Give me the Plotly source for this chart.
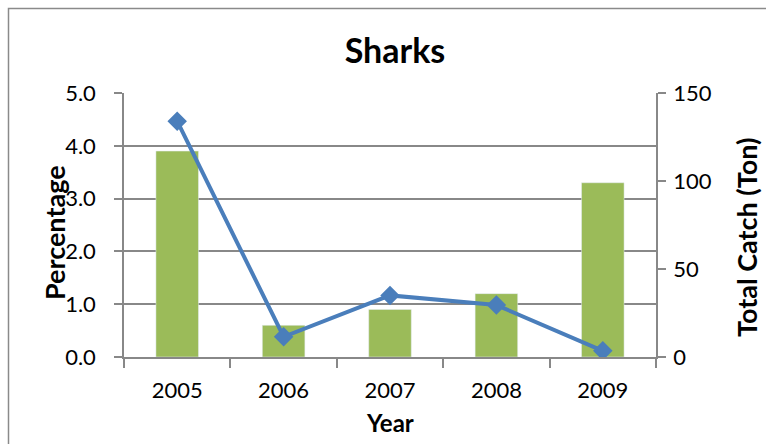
import plotly.graph_objects as go

years = ["2005", "2006", "2007", "2008", "2009"]
percentage = [3.9, 0.6, 0.9, 1.2, 3.3]
total_catch = [134, 11.5, 35, 29.5, 3.5]

FONT = "Lato, Open Sans, sans-serif"
GRID = "#888888"

fig = go.Figure()
fig.add_trace(go.Bar(x=years, y=percentage, marker_color="#9BBB59", width=0.4,
                     name="Percentage", yaxis="y"))
fig.add_trace(go.Scatter(x=years, y=total_catch, mode="lines+markers",
                         line=dict(color="#4A7EBB", width=4),
                         marker=dict(symbol="diamond", size=15, color="#4A7EBB"),
                         name="Total Catch", yaxis="y2"))

W, H = 766, 444
L, R, T, B = 124, 110, 93, 87
pw, ph = W - L - R, H - T - B

def px(x):
    return (x - L) / pw

def py(y):
    return (H - B - y) / ph

TICK = 22
fig.update_layout(
    width=W, height=H,
    margin=dict(l=L, r=R, t=T, b=B),
    paper_bgcolor="white", plot_bgcolor="white",
    showlegend=False,
    font=dict(family=FONT, color="black", size=TICK),
    title=dict(text="<b>Sharks</b>", x=395 / W, xanchor="center",
               y=1 - 51 / H, yanchor="middle", font=dict(size=34, family=FONT)),
    xaxis=dict(showline=True, linecolor=GRID, linewidth=1.5, ticks="outside",
               tickson="boundaries", ticklen=9, tickcolor=GRID, tickwidth=1.5,
               tickfont=dict(size=TICK), ticklabelstandoff=13),
    yaxis=dict(range=[0, 5], dtick=1, tickformat=".1f", showgrid=True,
               gridcolor=GRID, gridwidth=1.5, showline=True, linecolor=GRID,
               linewidth=1.5, ticks="outside", ticklen=8, tickcolor=GRID,
               tickwidth=1.5, tickfont=dict(size=TICK), zeroline=False,
               ticklabelstandoff=14),
    yaxis2=dict(range=[0, 150], dtick=50, overlaying="y", side="right",
                showgrid=False, showline=True, linecolor=GRID, linewidth=1.5,
                ticks="outside", ticklen=8, tickcolor=GRID, tickwidth=1.5,
                tickfont=dict(size=TICK), zeroline=False, ticklabelstandoff=3),
    annotations=[
        dict(text="<b>Year</b>", xref="paper", yref="paper", x=px(390), y=py(422),
             xanchor="center", yanchor="middle", showarrow=False,
             font=dict(size=24)),
        dict(text="<b>Percentage</b>", xref="paper", yref="paper", x=px(54), y=py(233),
             xanchor="center", yanchor="middle", showarrow=False, textangle=-90,
             font=dict(size=27)),
        dict(text="<b>Total Catch (Ton)</b>", xref="paper", yref="paper", x=px(746),
             y=py(238), xanchor="center", yanchor="middle", showarrow=False,
             textangle=-90, font=dict(size=27)),
    ],
    shapes=[dict(type="rect", xref="paper", yref="paper",
                 x0=px(8.5), x1=px(790), y0=py(470), y1=py(8.5),
                 line=dict(color="#8a8a8a", width=1.5), layer="below")],
)

fig.write_html("out.html")
